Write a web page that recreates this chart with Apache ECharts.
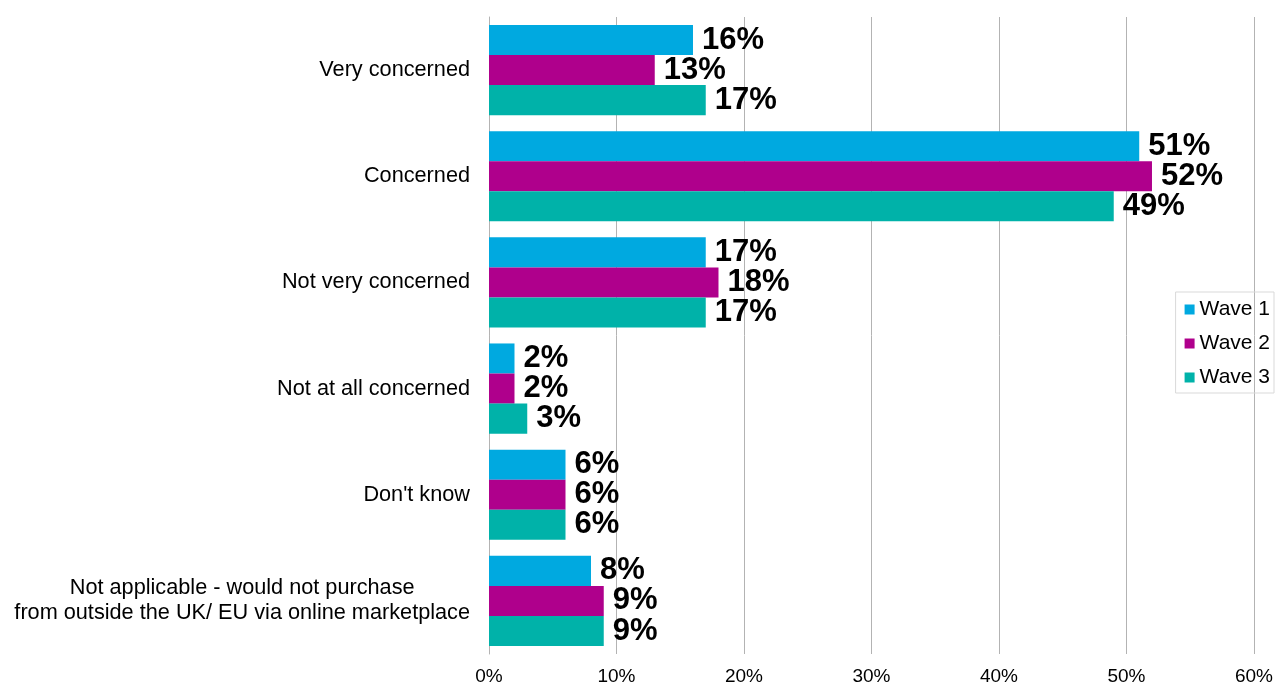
<!DOCTYPE html>
<html>
<head>
<meta charset="utf-8">
<style>
  html, body { margin: 0; padding: 0; background: #fff; }
  #chart { width: 1276px; height: 686px; }
</style>
<script src="https://cdn.jsdelivr.net/npm/echarts@6/dist/echarts.min.js"></script>
</head>
<body>
<div id="chart"></div>
<script>
// Level of concern, share of respondents per survey wave
const categories = [
  'Very concerned',
  'Concerned',
  'Not very concerned',
  'Not at all concerned',
  "Don't know",
  'Not applicable - would not purchase\nfrom outside the UK/ EU via online marketplace'
];
const seriesNames = ['Wave 1', 'Wave 2', 'Wave 3'];
const wave1 = [16, 51, 17, 2, 6, 8];
const wave2 = [13, 52, 18, 2, 6, 9];
const wave3 = [17, 49, 17, 3, 6, 9];
const colors = ['#00A9E0', '#AF008C', '#00B2A9'];
const xTicks = [0, 10, 20, 30, 40, 50, 60];

const font = "'Liberation Sans', Arial, sans-serif";

const chart = echarts.init(document.getElementById('chart'), null, { renderer: 'canvas' });

const makeSeries = (name, data, color) => ({
  name: name,
  type: 'bar',
  data: data,
  barGap: '0%',
  barCategoryGap: '15%',
  itemStyle: { color: color },
  label: {
    show: true,
    position: 'right',
    distance: 9,
    formatter: p => p.value + '%',
    fontFamily: font,
    fontWeight: 'bold',
    fontSize: 31,
    color: '#000'
  }
});

chart.setOption({
  animation: false,
  textStyle: { fontFamily: font },
  grid: { left: 489, right: 21, top: 17, bottom: 32, containLabel: false },
  legend: {
    orient: 'vertical',
    right: 2,
    top: 292,
    data: seriesNames,
    icon: 'rect',
    itemWidth: 10,
    itemHeight: 10,
    itemGap: 13,
    padding: [7, 4, 5, 9],
    borderColor: '#d9d9d9',
    borderWidth: 1,
    textStyle: { fontFamily: font, fontSize: 21, color: '#000' }
  },
  xAxis: {
    type: 'value',
    min: xTicks[0],
    max: xTicks[xTicks.length - 1],
    interval: 10,
    axisLabel: {
      formatter: v => v + '%',
      fontFamily: font,
      fontSize: 19,
      color: '#000',
      margin: 13
    },
    axisLine: { show: false },
    axisTick: { show: false },
    splitLine: { show: true, lineStyle: { color: '#b3b3b3', width: 1 } }
  },
  yAxis: {
    type: 'category',
    data: categories,
    inverse: true,
    axisLabel: {
      margin: 19,
      align: 'right',
      formatter: v => v.split('\n').map(s => '{c|' + s + '}').join('\n'),
      rich: {
        c: {
          align: 'center',
          fontFamily: font,
          fontSize: 21.7,
          lineHeight: 25,
          color: '#000'
        }
      }
    },
    axisLine: { show: true, lineStyle: { color: '#b3b3b3', width: 1 } },
    axisTick: { show: false }
  },
  series: [
    makeSeries(seriesNames[0], wave1, colors[0]),
    makeSeries(seriesNames[1], wave2, colors[1]),
    makeSeries(seriesNames[2], wave3, colors[2])
  ]
});
</script>
</body>
</html>
